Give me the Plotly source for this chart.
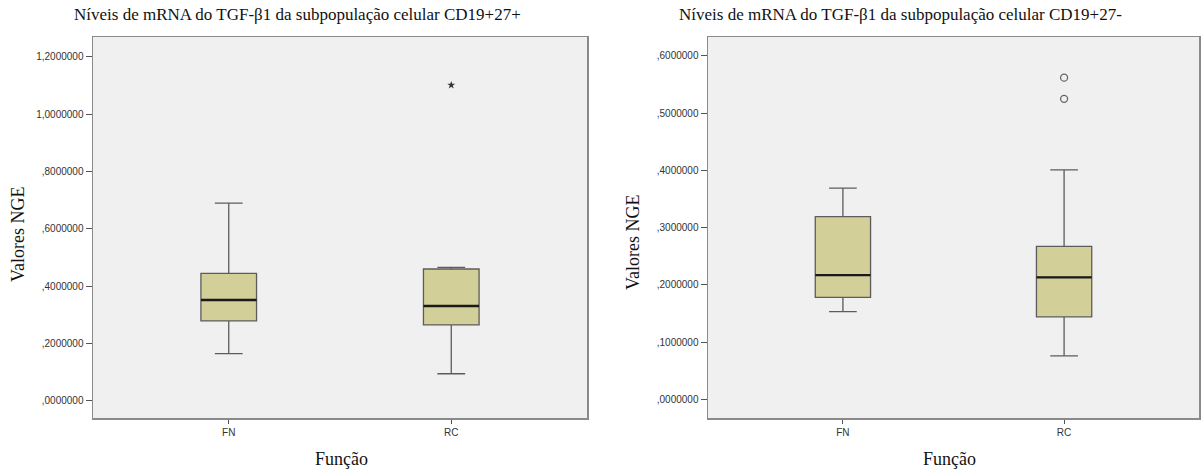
import plotly.graph_objects as go

# ---------------- data ----------------
categories = ["FN", "RC"]
cat_pos = [0, 1]

# Left chart: CD19+27+
left_title = "Níveis de mRNA do TGF-β1 da subpopulação celular CD19+27+"
left_lowerfence = [0.165, 0.095]
left_q1 = [0.279, 0.265]
left_median = [0.352, 0.331]
left_q3 = [0.445, 0.460]
left_upperfence = [0.690, 0.466]
left_extreme_x = [1]
left_extreme_y = [1.101]
left_tickvals = [0.0, 0.2, 0.4, 0.6, 0.8, 1.0, 1.2]
left_ticktext = [",0000000", ",2000000", ",4000000", ",6000000", ",8000000", "1,0000000", "1,2000000"]

# Right chart: CD19+27-
right_title = "Níveis de mRNA do TGF-β1 da subpopulação celular CD19+27-"
right_lowerfence = [0.153, 0.076]
right_q1 = [0.178, 0.144]
right_median = [0.217, 0.213]
right_q3 = [0.319, 0.267]
right_upperfence = [0.369, 0.401]
right_outlier_x = [1, 1]
right_outlier_y = [0.562, 0.525]
right_tickvals = [0.0, 0.1, 0.2, 0.3, 0.4, 0.5, 0.6]
right_ticktext = [",0000000", ",1000000", ",2000000", ",3000000", ",4000000", ",5000000", ",6000000"]

y_title = "Valores NGE"
x_title = "Função"

# ---------------- style ----------------
BOX_W = 0.25
FILL = "#d3cf98"
EDGE = "#5c5c5c"
BG = "#f0f0f0"
SERIF = "Liberation Serif, Times New Roman, serif"
SANS = "Liberation Sans, Arial, sans-serif"

fig = go.Figure()


def add_panel(xa, ya, lf, q1, med, q3, uf):
    fig.add_trace(go.Box(
        x=cat_pos, q1=q1, median=med, q3=q3, lowerfence=lf, upperfence=uf,
        width=BOX_W, whiskerwidth=0.5, fillcolor=FILL,
        line=dict(color=EDGE, width=1.3), boxpoints=False,
        showlegend=False, hoverinfo="skip", xaxis=xa, yaxis=ya,
    ))
    for xp, m in zip(cat_pos, med):
        fig.add_trace(go.Scatter(
            x=[xp - BOX_W / 2, xp + BOX_W / 2], y=[m, m], mode="lines",
            line=dict(color="#1a1a1a", width=2.4), showlegend=False,
            hoverinfo="skip", xaxis=xa, yaxis=ya,
        ))


add_panel("x", "y", left_lowerfence, left_q1, left_median, left_q3, left_upperfence)
fig.add_trace(go.Scatter(
    x=left_extreme_x, y=left_extreme_y, mode="markers",
    marker=dict(symbol="star", size=6, color="#333333", line=dict(width=0)),
    showlegend=False, hoverinfo="skip", xaxis="x", yaxis="y",
))

add_panel("x2", "y2", right_lowerfence, right_q1, right_median, right_q3, right_upperfence)
fig.add_trace(go.Scatter(
    x=right_outlier_x, y=right_outlier_y, mode="markers",
    marker=dict(symbol="circle-open", size=7, color="#666666", line=dict(width=1.3)),
    showlegend=False, hoverinfo="skip", xaxis="x2", yaxis="y2",
))

W, H = 1201, 470
y_dom = [(H - 418) / H, (H - 37) / H]

xaxis_common = dict(
    range=[-0.61, 1.61], tickvals=cat_pos, ticktext=categories,
    showgrid=False, zeroline=False, showline=True, mirror=True,
    linecolor="#8a8a8a", linewidth=1.5, ticks="outside", ticklen=4,
    tickcolor="#555555", tickwidth=1, tickfont=dict(family=SANS, size=10, color="#333333"),
    fixedrange=True,
)
yaxis_common = dict(
    showgrid=False, zeroline=False, showline=True, mirror=True,
    linecolor="#8a8a8a", linewidth=1.5, ticks="outside", ticklen=6,
    tickcolor="#555555", tickwidth=1, tickfont=dict(family=SANS, size=10, color="#333333"),
    fixedrange=True,
)

fig.update_layout(
    width=W, height=H,
    margin=dict(l=0, r=0, t=0, b=0),
    paper_bgcolor="white", plot_bgcolor=BG,
    hovermode=False,
    xaxis=dict(domain=[93 / W, 587 / W], anchor="y", **xaxis_common),
    yaxis=dict(domain=y_dom, anchor="x", range=[-0.0593, 1.2687],
               tickvals=left_tickvals, ticktext=left_ticktext, **yaxis_common),
    xaxis2=dict(domain=[708 / W, 1199 / W], anchor="y2", **xaxis_common),
    yaxis2=dict(domain=y_dom, anchor="x2", range=[-0.0327, 0.633],
                tickvals=right_tickvals, ticktext=right_ticktext, **yaxis_common),
)

ann_font_title = dict(family=SERIF, size=17, color="#111111")
ann_font_axis = dict(family=SERIF, size=18, color="#111111")

annotations = [
    dict(text=left_title, x=297 / W, y=1 - 15 / H, xref="paper", yref="paper",
         showarrow=False, font=ann_font_title, xanchor="center", yanchor="middle"),
    dict(text=right_title, x=900 / W, y=1 - 15 / H, xref="paper", yref="paper",
         showarrow=False, font=ann_font_title, xanchor="center", yanchor="middle"),
    dict(text=y_title, x=18 / W, y=1 - 235 / H, xref="paper", yref="paper", textangle=-90,
         showarrow=False, font=ann_font_axis, xanchor="center", yanchor="middle"),
    dict(text=y_title, x=633 / W, y=1 - 243 / H, xref="paper", yref="paper", textangle=-90,
         showarrow=False, font=ann_font_axis, xanchor="center", yanchor="middle"),
    dict(text=x_title, x=341 / W, y=1 - 459 / H, xref="paper", yref="paper",
         showarrow=False, font=ann_font_axis, xanchor="center", yanchor="middle"),
    dict(text=x_title, x=949 / W, y=1 - 459 / H, xref="paper", yref="paper",
         showarrow=False, font=ann_font_axis, xanchor="center", yanchor="middle"),
]
fig.update_layout(annotations=annotations)

fig.write_html(
    "out.html",
    config={"displayModeBar": False, "staticPlot": True},
    post_script="document.body.style.margin='0';document.body.style.overflow='hidden';",
)
